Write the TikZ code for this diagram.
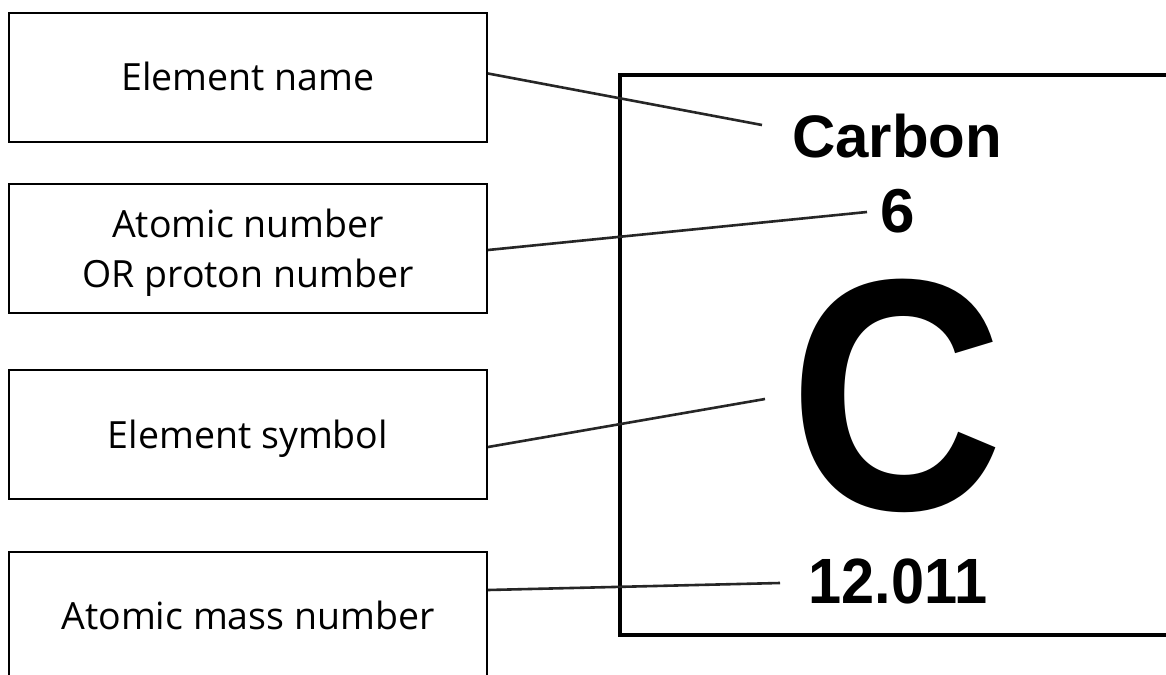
\documentclass[tikz,border=0pt]{standalone}
\usepackage{fontspec}
\setmainfont{Open Sans}
\newfontfamily\elfont{Liberation Sans}
\usetikzlibrary{calc}
\tikzset{
  labelbox/.style={draw=black, line width=2pt, minimum width=478pt, minimum height=129pt,
    inner sep=0pt, align=center, text height=27pt, text depth=0pt,
    font=\fontsize{37.5}{50}\selectfont},
  pointer/.style={draw=black!85, line width=2.6pt},
  eltext/.style={inner sep=0pt, anchor=base, font=\elfont\bfseries}
}
\begin{document}
\begin{tikzpicture}[x=1pt, y=-1pt]
\useasboundingbox (0,0) rectangle (1166,674);
\clip (0,0) rectangle (1166,674);
\fill[white] (0,0) rectangle (1166,674);
% element tile
\draw[line width=4pt] (620,75) rectangle (1190,635);
\node[eltext, font=\elfont\bfseries\fontsize{60}{60}\selectfont] (carbon) at (897,157) {Carbon};
\node[eltext, font=\elfont\bfseries\fontsize{62}{62}\selectfont] (six) at (898,232) {6};
\node[eltext, font=\elfont\bfseries\fontsize{330}{330}\selectfont] (sym) at (897,509) {\scalebox{0.9}[1]{C}};
\node[eltext, font=\elfont\bfseries\fontsize{64}{64}\selectfont] (mass) at (898,603) {\scalebox{0.93}[1]{12.011}};
% label boxes
\node[labelbox] (b1) at (248,77.5) {Element name};
\node[labelbox, text height=77pt] (b2) at (248,248.5) {Atomic number\\OR proton number};
\node[labelbox] (b3) at (248,434.5) {Element symbol};
\node[labelbox] (b4) at (248,616) {Atomic mass number};
% connector ends
\coordinate (s1) at ($(b1.east)+(0,-4)$);
\coordinate (s2) at ($(b2.east)+(0,1.5)$);
\coordinate (s3) at ($(b3.east)+(0,12.5)$);
\coordinate (s4) at ($(b4.east)+(0,-26)$);
\coordinate (e1) at (762,125);
\coordinate (e2) at (867,212);
\coordinate (e3) at (765,399);
\coordinate (e4) at (780,583);
\draw[pointer] (s1) -- (e1);
\draw[pointer] (s2) -- (e2);
\draw[pointer] (s3) -- (e3);
\draw[pointer] (s4) -- (e4);
\end{tikzpicture}
\end{document}
